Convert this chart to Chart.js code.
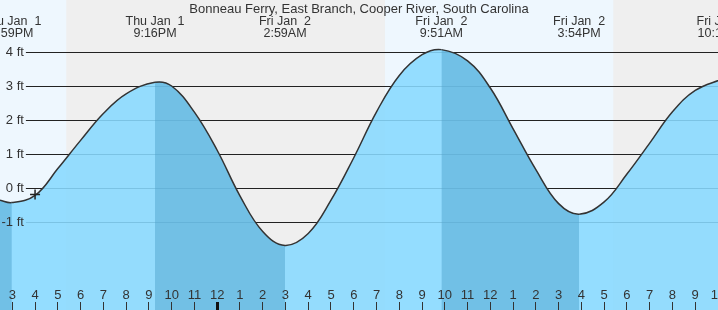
<!DOCTYPE html>
<html>
<head>
<meta charset="utf-8">
<script src="https://cdn.jsdelivr.net/npm/chart.js@4.4.1/dist/chart.umd.min.js"></script>
<style>
  html, body { margin: 0; padding: 0; background: #fff; }
  #tide { display: block; background: #eef7fe; }
</style>
</head>
<body>
<canvas id="tide" width="718" height="310"></canvas>
<script>
// hours are counted from Thu Jan 1 00:00
const tideHours = [14.46, 14.98, 16, 17, 18, 19, 20, 21.27, 22, 23, 24, 25, 26, 26.98, 28, 29, 30, 31, 32, 33, 33.85, 35, 36, 37, 38, 39, 39.9, 41, 42, 43, 44, 45, 46.2];
const tideFeet = [-0.35, -0.42, -0.21, 0.58, 1.41, 2.2, 2.78, 3.12, 3.01, 2.24, 1.12, -0.22, -1.27, -1.68, -1.33, -0.35, 0.9, 2.25, 3.32, 3.93, 4.08, 3.75, 2.95, 1.75, 0.55, -0.45, -0.76, -0.4, 0.42, 1.33, 2.25, 2.88, 3.22];

const eventHours = [14.98, 21.27, 26.98, 33.85, 39.9, 46.2];
const eventDays = ["Thu Jan  1", "Thu Jan  1", "Fri Jan  2", "Fri Jan  2", "Fri Jan  2", "Fri Jan  2"];
const eventTimes = ["2:59PM", "9:16PM", "2:59AM", "9:51AM", "3:54PM", "10:12PM"];

const nightStart = [17.37, 41.4];
const nightEnd = [31.37, 55.4];

const nowHour = [16.0];
const nowFeet = [-0.18];

const hourTicks = [15, 16, 17, 18, 19, 20, 21, 22, 23, 24, 25, 26, 27, 28, 29, 30, 31, 32, 33, 34, 35, 36, 37, 38, 39, 40, 41, 42, 43, 44, 45, 46];
const hourLabels = ["3", "4", "5", "6", "7", "8", "9", "10", "11", "12", "1", "2", "3", "4", "5", "6", "7", "8", "9", "10", "11", "12", "1", "2", "3", "4", "5", "6", "7", "8", "9", "10"];
const feetTicks = [-1, 0, 1, 2, 3, 4];

const X_MIN = 14.46;
const X_MAX = 46.0;
const Y_MIN = -3.58;
const Y_MAX = 5.54;

const DAY = "#eef7fe";
const NIGHT = "#efefef";
const WATER = "rgba(136, 217, 255, 0.88)";
const EBB = "rgba(80, 164, 205, 0.5)";
const CLEAR = "rgba(0, 0, 0, 0)";
const INK = "#333";

Chart.defaults.font.family = "'Liberation Sans', Arial, sans-serif";
Chart.defaults.color = INK;

const nightBands = {
  id: "nightBands",
  beforeDraw(chart) {
    const { ctx, chartArea: area, scales } = chart;
    ctx.save();
    ctx.fillStyle = NIGHT;
    nightStart.forEach((start, i) => {
      const x0 = Math.max(scales.x.getPixelForValue(start), area.left);
      const x1 = Math.min(scales.x.getPixelForValue(nightEnd[i]), area.right);
      if (x1 > x0) ctx.fillRect(x0, area.top, x1 - x0, area.bottom - area.top);
    });
    ctx.restore();
  },
};

function flatAxis(scale) {
  if (scale.isHorizontal()) scale.height = 0;
  else scale.width = 0;
  scale.paddingLeft = 0;
  scale.paddingRight = 0;
  scale.paddingTop = 0;
  scale.paddingBottom = 0;
}

function setTicks(values) {
  return (scale) => {
    scale.ticks = values.map((value) => ({ value }));
  };
}

const tidePoints = tideHours.map((h, i) => ({ x: h, y: tideFeet[i] }));

new Chart(document.getElementById("tide"), {
  type: "line",
  data: {
    datasets: [
      {
        label: "now",
        data: nowHour.map((h, i) => ({ x: h, y: nowFeet[i] })),
        showLine: false,
        pointStyle: "cross",
        pointRadius: 5,
        pointBorderColor: "#222",
        pointBorderWidth: 1.5,
        order: 0,
      },
      {
        label: "Tide",
        data: tidePoints,
        borderColor: INK,
        borderWidth: 1.5,
        backgroundColor: CLEAR,
        fill: "start",
        pointRadius: 0,
        tension: 0.4,
        segment: {
          backgroundColor: (c) => (c.p1.parsed.y < c.p0.parsed.y ? EBB : CLEAR),
        },
        order: 1,
      },
      {
        label: "Water",
        data: tidePoints,
        borderWidth: 0,
        backgroundColor: WATER,
        fill: "start",
        pointRadius: 0,
        tension: 0.4,
        order: 2,
      },
    ],
  },
  options: {
    responsive: false,
    animation: false,
    events: [],
    layout: { padding: 0, autoPadding: false },
    plugins: {
      legend: { display: false },
      tooltip: { enabled: false },
    },
    scales: {
      x: {
        type: "linear",
        position: "bottom",
        min: X_MIN,
        max: X_MAX,
        afterBuildTicks: setTicks(hourTicks),
        afterFit: flatAxis,
        border: { display: false },
        grid: {
          drawOnChartArea: false,
          drawTicks: true,
          tickLength: -8,
          tickWidth: (c) => (c.tick && c.tick.value % 24 === 0 ? 3 : 1),
          tickColor: (c) => (c.tick && c.tick.value % 24 === 0 ? "#111" : INK),
          z: 1,
        },
        ticks: {
          mirror: true,
          autoSkip: false,
          maxRotation: 0,
          padding: 6.5,
          color: INK,
          font: { size: 13 },
          z: 1,
          callback: (value, index) => hourLabels[index],
        },
      },
      x2: {
        type: "linear",
        position: "top",
        min: X_MIN,
        max: X_MAX,
        afterBuildTicks: setTicks(eventHours),
        afterFit: flatAxis,
        border: { display: false },
        grid: { display: false, z: 2 },
        title: {
          display: true,
          text: "Bonneau Ferry, East Branch, Cooper River, South Carolina",
          color: INK,
          font: { size: 13 },
          padding: { top: 2, bottom: 0 },
        },
        ticks: {
          mirror: true,
          autoSkip: false,
          maxRotation: 0,
          padding: 3.5,
          color: INK,
          font: { size: 12.5, lineHeight: 0.96 },
          z: 2,
          callback: (value, index) => [eventDays[index], eventTimes[index]],
        },
      },
      y: {
        type: "linear",
        position: "left",
        min: Y_MIN,
        max: Y_MAX,
        afterBuildTicks: setTicks(feetTicks),
        afterFit: flatAxis,
        border: { display: false },
        grid: { color: "#222", lineWidth: 1, drawTicks: false },
        ticks: {
          mirror: true,
          crossAlign: "far",
          padding: 1.5,
          color: CLEAR,
          font: { size: 13, lineHeight: 1 },
          showLabelBackdrop: true,
          backdropColor: DAY,
          backdropPadding: { top: 0, bottom: 0, left: 30, right: 2 },
          z: 0,
          callback: (value) => value + " ft",
        },
      },
      yl: {
        type: "linear",
        position: "left",
        min: Y_MIN,
        max: Y_MAX,
        afterBuildTicks: setTicks(feetTicks),
        afterFit: flatAxis,
        border: { display: false },
        grid: { display: false },
        ticks: {
          mirror: true,
          crossAlign: "far",
          padding: 1.5,
          color: INK,
          font: { size: 13, lineHeight: 1 },
          z: 2,
          callback: (value) => value + " ft",
        },
      },
    },
  },
  plugins: [nightBands],
});
</script>
</body>
</html>
